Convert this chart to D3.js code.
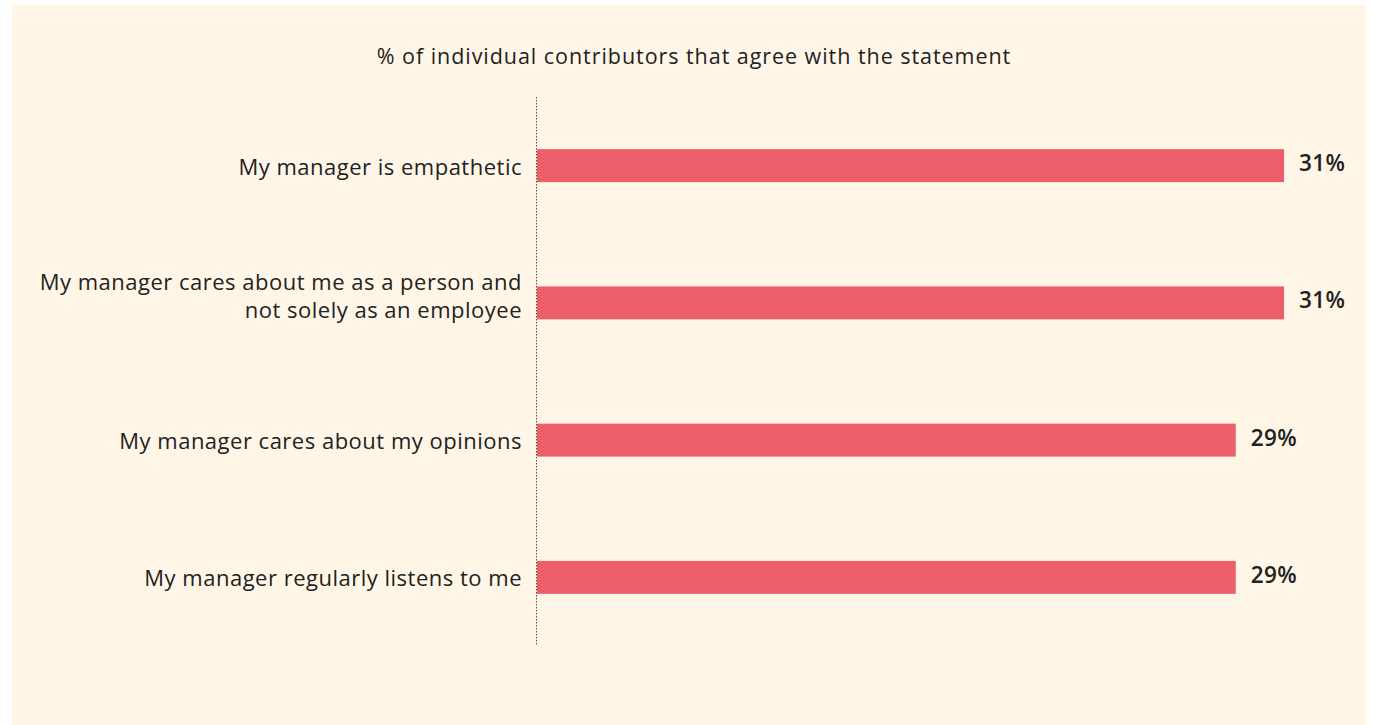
<!DOCTYPE html>
<html><head><meta charset="utf-8">
<script src="https://cdn.jsdelivr.net/npm/d3@7"></script>
<style>html,body{margin:0;padding:0;background:#fff;}</style>
</head><body>
<svg id="chart" width="1375" height="725"></svg>
<script>
const categories = [
  ["My manager is empathetic"],
  ["My manager cares about me as a person and", "not solely as an employee"],
  ["My manager cares about my opinions"],
  ["My manager regularly listens to me"]
];
const values = [31, 31, 29, 29];
const title = "% of individual contributors that agree with the statement";

const svg = d3.select("#chart");
const font = "'Open Sans', 'Noto Sans', sans-serif";
svg.append("rect").attr("x", 12).attr("y", 5).attr("width", 1354).attr("height", 720).attr("fill", "#FFF6E7");

const x0 = 536;
const x = d3.scaleLinear().domain([0, 33]).range([x0, x0 + 33 * 24.13]);
const y = d3.scaleBand().domain(d3.range(categories.length)).range([97, 646]).paddingInner(0.76).paddingOuter(0.38);

svg.append("text").attr("x", 694).attr("y", 64).attr("text-anchor", "middle")
  .attr("font-family", font).attr("font-size", 21.5).attr("letter-spacing", 0.95)
  .attr("fill", "#222").text(title);

svg.append("line").attr("x1", x0 + 0.5).attr("x2", x0 + 0.5).attr("y1", 97).attr("y2", 646)
  .attr("stroke", "#555").attr("stroke-width", 1).attr("stroke-dasharray", "1.5,1.5");

const g = svg.append("g");
values.forEach((v, i) => {
  g.append("rect").attr("x", x(0) + 1).attr("y", y(i)).attr("width", x(v) - x(0) - 1)
    .attr("height", y.bandwidth()).attr("fill", "#EC5F6A");
  const cy = y(i) + y.bandwidth() / 2;
  g.append("text").attr("x", x(v) + 15).attr("y", cy + 5.5)
    .attr("font-family", font).attr("font-size", 22.5).attr("letter-spacing", 0.4)
    .attr("font-weight", 600).attr("fill", "#222").text(v + "%");
  const lines = categories[i];
  const lh = 28;
  const first = cy + 9 - (lines.length - 1) * 21.5;
  lines.forEach((ln, j) => {
    g.append("text").attr("x", 522).attr("y", first + j * lh)
      .attr("text-anchor", "end").attr("letter-spacing", 0.5)
      .attr("font-family", font).attr("font-size", 22).attr("fill", "#222").text(ln);
  });
});
</script>
</body></html>
